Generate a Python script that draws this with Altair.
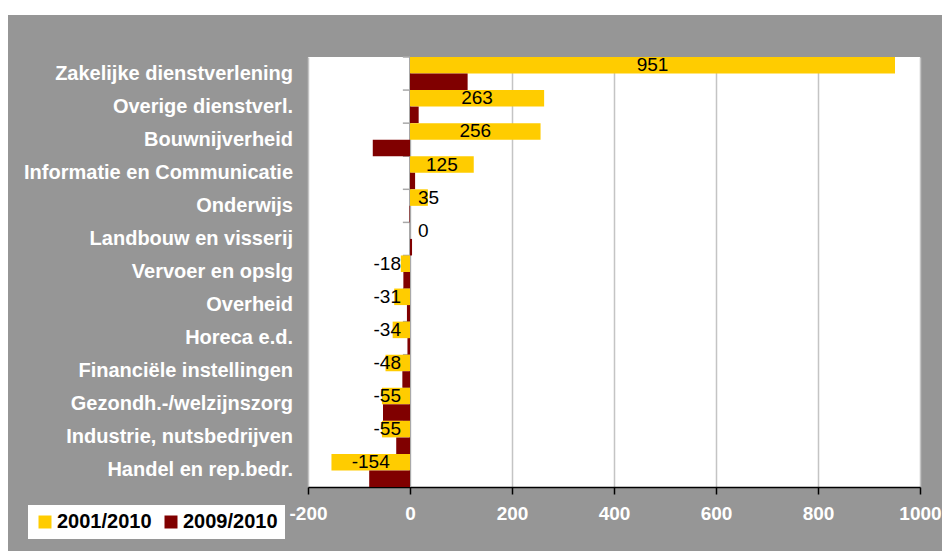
import altair as alt
import pandas as pd

cats = ["Zakelijke dienstverlening", "Overige dienstverl.", "Bouwnijverheid",
        "Informatie en Communicatie", "Onderwijs", "Landbouw en visserij",
        "Vervoer en opslg", "Overheid", "Horeca e.d.", "Financiële instellingen",
        "Gezondh.-/welzijnszorg", "Industrie, nutsbedrijven", "Handel en rep.bedr."]
series = ["2001/2010", "2009/2010"]
v2001 = [951, 263, 256, 125, 35, 0, -18, -31, -34, -48, -55, -55, -154]
v2009 = [113, 17, -73, 10, -1, 4, -13, -6, -5, -15, -53, -27, -80]
x_ticks = [-200, 0, 200, 400, 600, 800, 1000]
colors = ["#FFCC00", "#800000"]

rows = []
for c, a, b in zip(cats, v2001, v2009):
    rows.append({"cat": c, "series": series[0], "v": a})
    rows.append({"cat": c, "series": series[1], "v": b})
df = pd.DataFrame(rows)
cat_df = pd.DataFrame({"cat": cats})

FONT = "Liberation Sans, Arial, sans-serif"
yscale = alt.Scale(domain=cats, paddingInner=0, paddingOuter=0)
xscale = alt.Scale(domain=[-200, 1000], nice=False, zero=False)
oscale = alt.Scale(domain=series, paddingInner=0, paddingOuter=0)

xaxis = alt.Axis(values=x_ticks, labelExpr="'' + datum.value", title=None,
                 grid=True, gridColor="#c4c4c4", gridWidth=1.5,
                 domainColor="black", domainWidth=1.5,
                 tickColor="black", tickWidth=1.5, tickSize=7,
                 labelColor="white", labelFont=FONT, labelFontSize=19,
                 labelFontWeight="bold", labelPadding=10, labelFlush=False)

base = alt.Chart(df)

# white strip above the gray panel
strip = alt.Chart(cat_df).mark_rect(color="white").encode(
    x=alt.value(-300), x2=alt.value(640), y=alt.value(-49), y2=alt.value(-42)
)

zero_line = alt.Chart(cat_df).mark_rule(color="#a8a8a8", strokeWidth=1.5).encode(
    x=alt.datum(0, scale=xscale, axis=xaxis)
)

cat_ticks = alt.Chart(cat_df).mark_rule(color="#a8a8a8", strokeWidth=1.5).encode(
    y=alt.Y("cat:N", scale=yscale, bandPosition=0, axis=None),
    x=alt.datum(-14, scale=xscale, axis=xaxis),
    x2=alt.datum(0),
)

cat_labels = alt.Chart(cat_df).mark_text(
    font=FONT, fontSize=20, fontWeight="bold", color="white",
    align="right", baseline="middle", dx=-15
).encode(
    y=alt.Y("cat:N", scale=yscale, axis=None),
    x=alt.datum(-200, scale=xscale, axis=xaxis),
    text="cat:N",
)

bars = base.mark_bar().encode(
    x=alt.X("v:Q", scale=xscale, axis=xaxis),
    y=alt.Y("cat:N", scale=yscale, axis=None),
    yOffset=alt.YOffset("series:N", scale=oscale),
    color=alt.Color("series:N", scale=alt.Scale(domain=series, range=colors),
                    legend=alt.Legend(title=None, orient="none", legendX=-280, legendY=448,
                                      direction="horizontal", fillColor="white", padding=7,
                                      symbolType="square", symbolSize=169,
                                      symbolStrokeWidth=0, labelFont=FONT,
                                      labelFontSize=20, labelFontWeight="bold",
                                      labelColor="black", labelOffset=2,
                                      columnPadding=9)),
)

lab = base.transform_filter(alt.datum.series == series[0]).transform_calculate(
    mid="datum.v / 2", txt="'' + datum.v"
)
text_enc = dict(
    y=alt.Y("cat:N", scale=yscale, axis=None),
    yOffset=alt.YOffset("series:N", scale=oscale),
    text="txt:N",
)
lab_mid = lab.transform_filter("abs(datum.v) >= 100").mark_text(
    font=FONT, fontSize=19, color="black", align="center", baseline="middle"
).encode(x=alt.X("mid:Q", scale=xscale, axis=xaxis), **text_enc)
lab_pos = lab.transform_filter("datum.v >= 0 && datum.v < 100").mark_text(
    font=FONT, fontSize=19, color="black", align="left", baseline="middle", dx=8
).encode(x=alt.datum(0, scale=xscale, axis=xaxis), **text_enc)
lab_neg = lab.transform_filter("datum.v < 0 && datum.v > -100").mark_text(
    font=FONT, fontSize=19, color="black", align="right", baseline="middle", dx=-9
).encode(x=alt.datum(0, scale=xscale, axis=xaxis), **text_enc)

chart = alt.layer(strip, zero_line, cat_ticks, cat_labels, bars,
                  lab_mid, lab_pos, lab_neg).properties(
    width=612, height=430,
    autosize=alt.AutoSizeParams(type="none"),
    padding={"left": 300, "top": 49, "right": 22, "bottom": 64},
    background="#969696",
).configure_view(fill="white", stroke=None)

chart.save("out.html", embed_options={"renderer": "svg", "actions": False})
